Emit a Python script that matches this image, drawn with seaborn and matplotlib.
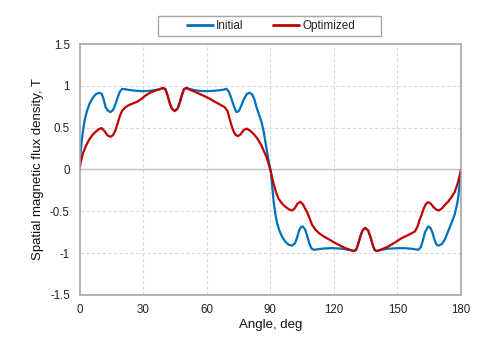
import matplotlib
matplotlib.use("Agg")
import matplotlib.pyplot as plt
from matplotlib.patches import Rectangle
import seaborn as sns
import pandas as pd

# Initial (blue) series: angle (deg) and flux density (T)
init_angle = [0, 0.5, 1, 1.6, 2.5, 3.6, 4.8, 6, 7.5, 9.1, 10.5, 11.5, 12.3, 13.5, 14.6, 15.8, 16.8,
              17.8, 19, 20.2, 21.5, 23, 26, 29.6, 33, 36, 38, 39.4, 40.5, 41.5, 42.5, 43.5, 44.9,
              46.3, 47.3, 48.3, 49.3, 50.4, 52, 54, 57, 60, 63, 66, 68, 69.3, 70.5, 71.7, 72.8,
              74, 75.2, 76.3, 77.5, 79, 80.4, 81.5, 82.5, 83.5, 84.5, 85.9, 87, 87.7, 88.5, 89.3,
              90.3, 91, 91.6, 92.4, 93.2, 94.3, 95.5, 97, 98.7, 100.3, 101.7, 102.7, 103.6, 104.4,
              105.3, 106.5, 107.5, 108.5, 109.5, 110.5, 112, 115, 119.2, 123, 126, 128, 129.4,
              130.5, 131.5, 132.5, 133.5, 134.8, 136.2, 137.2, 138.2, 139.2, 140.3, 142, 145,
              150.4, 154, 157, 159.8, 161, 162, 163, 164.5, 165.6, 166.6, 167.6, 168.5, 169.5,
              171, 172.5, 173.9, 175.5, 177, 178, 178.6, 179.3, 180]
init_value = [0, 0.2, 0.33, 0.45, 0.6, 0.706, 0.79, 0.845, 0.895, 0.917, 0.905, 0.83, 0.745, 0.7,
              0.686, 0.71, 0.77, 0.845, 0.93, 0.964, 0.96, 0.952, 0.943, 0.936, 0.94, 0.95, 0.962,
              0.975, 0.96, 0.89, 0.8, 0.73, 0.698, 0.73, 0.8, 0.89, 0.96, 0.975, 0.962, 0.95,
              0.938, 0.936, 0.94, 0.947, 0.955, 0.964, 0.93, 0.845, 0.76, 0.686, 0.7, 0.76, 0.84,
              0.905, 0.917, 0.895, 0.84, 0.745, 0.67, 0.567, 0.44, 0.33, 0.21, 0.09,
              -0.03, -0.22, -0.385, -0.53, -0.64, -0.73, -0.8, -0.86, -0.9, -0.91, -0.88, -0.81,
              -0.73, -0.69, -0.68, -0.72, -0.8, -0.89, -0.945, -0.96, -0.955, -0.945, -0.94,
              -0.945, -0.955, -0.965, -0.975, -0.96, -0.89, -0.8, -0.73, -0.698, -0.73, -0.8,
              -0.89, -0.96, -0.975, -0.962, -0.948, -0.94, -0.942, -0.948, -0.96, -0.93, -0.85,
              -0.75, -0.68, -0.7, -0.76, -0.85, -0.9, -0.91, -0.89, -0.83, -0.74, -0.64, -0.54,
              -0.43, -0.345, -0.19, 0]

# Optimized (red) series
opt_angle = [0, 0.6, 1.6, 3, 4.4, 6, 7.6, 9, 10.4, 11.8, 13.1, 14.6, 15.8, 17, 18.2, 19.2, 20.2,
             21.7, 23.3, 25.3, 27.2, 29.3, 31.2, 33.5, 35.9, 38, 39.4, 40.5, 41.5, 42.5, 43.5,
             44.9, 46.3, 47.3, 48.3, 49.3, 50.4, 52, 54.3, 56.5, 59, 61.5, 63.8, 66, 68.5, 69.8,
             70.8, 71.7, 72.8, 73.8, 74.8, 76, 77.4, 78.8, 80.5, 82.7, 84.3, 85.8, 87, 88.2,
             89.2, 90.1, 90.8, 91.6, 92.7, 93.9, 95.5, 97.1, 98.7, 100.3, 101.5, 102.8, 104.2,
             105.5, 106.5, 107.3, 108.5, 109.7, 111.3, 113.2, 115.2, 118, 120.7, 123, 125.5,
             127.5, 129.4, 130.5, 131.5, 132.5, 133.5, 134.8, 136.2, 137.2, 138.2, 139.2, 140.3,
             142.5, 145.7, 149, 152, 155, 158.3, 159.5, 160.5, 161.4, 162.5, 163.5, 164.5, 165.8,
             167, 168.3, 169.5, 171, 172.5, 173.9, 175.5, 177, 178, 178.6, 179.4, 180]
opt_value = [0, 0.09, 0.19, 0.28, 0.35, 0.41, 0.45, 0.48, 0.495, 0.46, 0.41, 0.39, 0.41, 0.47,
             0.57, 0.65, 0.706, 0.745, 0.77, 0.79, 0.81, 0.845, 0.885, 0.92, 0.944, 0.96, 0.975,
             0.96, 0.89, 0.8, 0.73, 0.698, 0.73, 0.8, 0.89, 0.96, 0.975, 0.955, 0.93, 0.905,
             0.877, 0.845, 0.81, 0.78, 0.745, 0.7, 0.61, 0.527, 0.45, 0.41, 0.4, 0.42, 0.47,
             0.488, 0.465, 0.41, 0.355, 0.29, 0.22, 0.15, 0.07, -0.01, -0.09, -0.17, -0.27,
             -0.35, -0.405, -0.445, -0.475, -0.49, -0.465, -0.41, -0.385, -0.42, -0.47, -0.505,
             -0.58, -0.66, -0.72, -0.765, -0.8, -0.84, -0.88, -0.91, -0.94, -0.96, -0.975, -0.96,
             -0.89, -0.8, -0.73, -0.698, -0.73, -0.8, -0.89, -0.96, -0.975, -0.955, -0.92, -0.87,
             -0.82, -0.785, -0.74, -0.68, -0.6, -0.54, -0.46, -0.41, -0.39, -0.41, -0.45, -0.48,
             -0.49, -0.465, -0.42, -0.385, -0.33, -0.27, -0.2, -0.15, -0.07, 0]

series_names = ["Initial", "Optimized"]
x_ticks = [0, 30, 60, 90, 120, 150, 180]
y_ticks = [-1.5, -1, -0.5, 0, 0.5, 1, 1.5]
y_tick_labels = ["-1.5", "-1", "-0.5", "0", "0.5", "1", "1.5"]

df = pd.concat([
    pd.DataFrame({"angle": init_angle, "value": init_value, "series": series_names[0]}),
    pd.DataFrame({"angle": opt_angle, "value": opt_value, "series": series_names[1]}),
], ignore_index=True)

sns.set_style("white")
plt.rcParams["font.family"] = ["Liberation Sans", "DejaVu Sans"]
plt.rcParams["axes.unicode_minus"] = False

fig = plt.figure(figsize=(4.83, 3.43), dpi=100)
ax = fig.add_axes([0.1646, 0.140, 0.7899, 0.7317])

palette = {"Initial": "#0070C0", "Optimized": "#C00000"}
sns.lineplot(data=df, x="angle", y="value", hue="series", palette=palette,
             sort=False, estimator=None, linewidth=1.6, ax=ax)

ax.set_xlim(0, 180)
ax.set_ylim(-1.5, 1.5)
ax.set_xticks(x_ticks)
ax.set_yticks(y_ticks)
ax.set_yticklabels(y_tick_labels)
ax.tick_params(axis="both", length=0, labelsize=8.3, colors="#222222")
ax.tick_params(axis="y", pad=7)
ax.tick_params(axis="x", pad=6.5)

for v in x_ticks[1:-1]:
    ax.axvline(v, color="#D9D9D9", linestyle=(0, (3, 2)), linewidth=0.8, zorder=0)
for v in y_ticks[1:-1]:
    if v == 0:
        ax.axhline(v, color="#BFBFBF", linestyle="-", linewidth=1.0, zorder=0)
    else:
        ax.axhline(v, color="#D9D9D9", linestyle=(0, (3, 2)), linewidth=0.8, zorder=0)

for s in ax.spines.values():
    s.set_color("#A6A6A6")
    s.set_linewidth(1.2)

ax.set_xlabel("Angle, deg", fontsize=9.5, color="#111111", labelpad=2)
ax.set_ylabel("Spatial magnetic flux density, T", fontsize=9.5, color="#111111", labelpad=4)

handles, labels = ax.get_legend_handles_labels()
leg = ax.legend(handles, labels, ncol=2, loc="center", bbox_to_anchor=(0.561, 0.925),
                bbox_transform=fig.transFigure, frameon=False,
                fontsize=8.5, handlelength=2.2, columnspacing=2.5, handletextpad=0.25,
                borderpad=0.2)
for line in leg.get_lines():
    line.set_linewidth(2.0)

# Legend frame (wide, Excel-style)
fig.add_artist(Rectangle((158.3 / 483, 1 - 35.7 / 343), (381 - 158.3) / 483, 20 / 343,
                         transform=fig.transFigure, fill=False, edgecolor="#A6A6A6",
                         linewidth=1.0))

fig.savefig("out.png", dpi=100)
